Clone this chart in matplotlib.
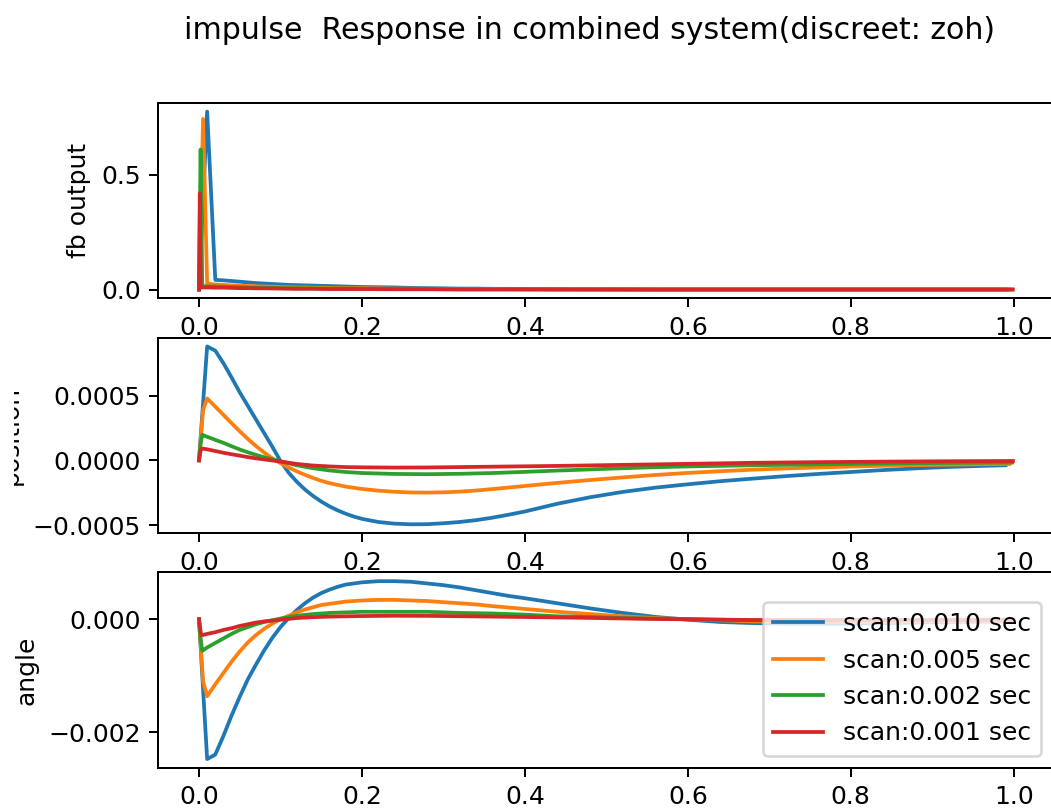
import matplotlib
matplotlib.use('Agg')
import matplotlib.pyplot as plt
from matplotlib.patches import Rectangle
import numpy as np

# ---- data (time in sec) ----
labels = ['scan:0.010 sec', 'scan:0.005 sec', 'scan:0.002 sec', 'scan:0.001 sec']

# scan 0.010 sec (position x1e-4, angle x1e-3)
t_010 = [0, .01, .02, .03, .04, .05, .06, .07, .08, .09,
         .10, .11, .12, .13, .14, .15, .16, .17, .18, .19,
         .20, .22, .24, .26, .28, .30, .32, .34, .36, .38,
         .40, .44, .48, .52, .56, .60, .64, .68, .72, .76,
         .80, .84, .88, .92, .96, .99]
fb_010 = [0, .775, .042, .040, .037, .034, .031, .028, .026, .024,
          .022, .020, .019, .018, .017, .016, .015, .014, .013, .012,
          .011, .010, .009, .007, .006, .005, .004, .004, .003, .003,
          .002, .002, .001, .001, 0, 0, 0, 0, 0, 0,
          0, 0, 0, 0, 0, 0]
pos_010 = [0, 8.80, 8.47, 7.50, 6.40, 5.25, 4.20, 3.15, 2.10, 1.05,
           -0.05, -0.95, -1.65, -2.25, -2.75, -3.18, -3.55, -3.86, -4.12, -4.34,
           -4.52, -4.76, -4.89, -4.94, -4.93, -4.86, -4.76, -4.62, -4.43, -4.20,
           -3.95, -3.35, -2.85, -2.44, -2.11, -1.85, -1.61, -1.41, -1.22, -1.05,
           -0.90, -0.75, -0.62, -0.51, -0.43, -0.38]
ang_010 = [0, -2.47, -2.39, -2.06, -1.70, -1.37, -1.06, -0.80, -0.55, -0.33,
           -0.14, 0.02, 0.16, 0.28, 0.38, 0.46, 0.52, 0.57, 0.61, 0.63,
           0.65, 0.67, 0.67, 0.66, 0.63, 0.60, 0.56, 0.51, 0.46, 0.41,
           0.37, 0.28, 0.19, 0.11, 0.04, -0.01, -0.05, -0.07, -0.08, -0.08,
           -0.08, -0.07, -0.06, -0.05, -0.045, -0.04]

# scan 0.005 sec
t_005 = [0, .005, .01, .02, .03, .04, .05, .06, .07, .08,
         .09, .10, .11, .12, .13, .14, .15, .16, .18, .20,
         .22, .24, .26, .28, .30, .32, .34, .36, .40, .44,
         .48, .52, .56, .60, .64, .68, .72, .76, .80, .84,
         .88, .92, .96, .995]
fb_005 = [0, .743, .025, .022, .020, .018, .017, .015, .014, .013,
          .012, .011, .010, .009, .009, .008, .008, .007, .006, .006,
          .005, .004, .004, .003, .003, .002, .002, .002, .001, .001,
          .001, 0, 0, 0, 0, 0, 0, 0, 0, 0,
          0, 0, 0, 0]
pos_005 = [0, 3.89, 4.78, 4.15, 3.51, 2.87, 2.24, 1.65, 1.10, 0.60,
           0.15, -0.22, -0.55, -0.85, -1.12, -1.36, -1.58, -1.76, -2.03, -2.21,
           -2.34, -2.43, -2.48, -2.49, -2.47, -2.42, -2.33, -2.22, -1.98, -1.74,
           -1.52, -1.32, -1.13, -0.97, -0.84, -0.72, -0.63, -0.55, -0.48, -0.42,
           -0.37, -0.33, -0.30, -0.28]
ang_005 = [0, -1.10, -1.36, -1.15, -0.95, -0.75, -0.57, -0.41, -0.28, -0.17,
           -0.08, 0.00, 0.06, 0.12, 0.17, 0.21, 0.25, 0.27, 0.31, 0.33,
           0.34, 0.34, 0.33, 0.32, 0.30, 0.28, 0.26, 0.23, 0.18, 0.13,
           0.09, 0.05, 0.02, 0.00, -0.02, -0.04, -0.05, -0.05, -0.05, -0.045,
           -0.04, -0.035, -0.03, -0.03]

# scan 0.002 sec
t_002 = [0, .002, .004, .006, .01, .02, .03, .04, .05, .06,
         .07, .08, .10, .12, .14, .16, .18, .20, .24, .28,
         .32, .36, .40, .44, .48, .52, .56, .60, .68, .76,
         .84, .92, .998]
fb_002 = [0, .61, .015, .014, .014, .013, .012, .011, .010, .009,
          .008, .008, .006, .005, .005, .004, .004, .003, .002, .002,
          .001, .001, .001, 0, 0, 0, 0, 0, 0, 0,
          0, 0, 0]
pos_002 = [0, 1.30, 1.98, 1.92, 1.82, 1.58, 1.35, 1.09, 0.84, 0.62,
           0.42, 0.24, -0.08, -0.38, -0.61, -0.78, -0.90, -0.98, -1.05, -1.07,
           -1.04, -0.98, -0.89, -0.79, -0.70, -0.61, -0.53, -0.47, -0.38, -0.31,
           -0.25, -0.20, -0.17]
ang_002 = [0, -0.35, -0.56, -0.54, -0.50, -0.42, -0.34, -0.26, -0.19, -0.14,
           -0.09, -0.05, 0.01, 0.06, 0.09, 0.11, 0.12, 0.13, 0.13, 0.13,
           0.11, 0.10, 0.08, 0.05, 0.04, 0.02, 0.01, 0.00, -0.02, -0.02,
           -0.02, -0.015, -0.01]

# scan 0.001 sec
t_001 = [0, .001, .002, .003, .005, .01, .02, .03, .04, .05,
         .06, .07, .08, .10, .12, .14, .16, .18, .20, .24,
         .28, .32, .36, .40, .44, .48, .52, .56, .60, .68,
         .76, .84, .92, .999]
fb_001 = [0, .42, .010, .009, .009, .009, .008, .008, .007, .006,
          .006, .005, .005, .004, .003, .003, .002, .002, .002, .001,
          .001, 0, 0, 0, 0, 0, 0, 0, 0, 0,
          0, 0, 0, 0]
pos_001 = [0, 0.40, 0.75, 0.92, 0.90, 0.85, 0.72, 0.585, 0.47, 0.36,
           0.25, 0.15, 0.07, -0.09, -0.28, -0.40, -0.47, -0.52, -0.54, -0.56,
           -0.55, -0.52, -0.49, -0.46, -0.43, -0.39, -0.35, -0.31, -0.27, -0.19,
           -0.14, -0.10, -0.07, -0.05]
ang_001 = [0, -0.12, -0.22, -0.28, -0.28, -0.26, -0.23, -0.19, -0.16, -0.12,
           -0.09, -0.06, -0.04, -0.01, 0.02, 0.035, 0.045, 0.05, 0.055, 0.06,
           0.058, 0.052, 0.045, 0.038, 0.03, 0.022, 0.012, 0.004, -0.003, -0.015,
           -0.018, -0.015, -0.012, -0.01]

times = [t_010, t_005, t_002, t_001]
fb_out = [fb_010, fb_005, fb_002, fb_001]
position = [np.array(p) * 1e-4 for p in [pos_010, pos_005, pos_002, pos_001]]
angle = [np.array(a) * 1e-3 for a in [ang_010, ang_005, ang_002, ang_001]]

# ---- figure ----
W, H, DPI = 1051, 811, 180
fig = plt.figure(figsize=(W / DPI, H / DPI), dpi=DPI)

left = 158.3 / W
width = 895.3 / W
ax_h = 195.7 / H
bottoms = [(H - 298.4) / H, (H - 533.2) / H, (H - 768.0) / H]

axes = [fig.add_axes([left, b, width, ax_h]) for b in bottoms]

for t, y, lab in zip(times, fb_out, labels):
    axes[0].plot(t, y, label=lab)
axes[0].set_ylabel('fb output')
axes[0].set_yticks([0.0, 0.5])

for t, y in zip(times, position):
    axes[1].plot(t, y)
axes[1].set_ylabel('position')
axes[1].set_yticks([-0.0005, 0.0, 0.0005])

for t, y, lab in zip(times, angle, labels):
    axes[2].plot(t, y, label=lab)
axes[2].set_ylabel('angle')
axes[2].set_yticks([-0.002, 0.0])
axes[2].legend(loc='lower right')

for ax in axes:
    ax.set_xticks([0.0, 0.2, 0.4, 0.6, 0.8, 1.0])
    ax.spines['right'].set_visible(False)  # sits past the cropped edge

fig.suptitle('impulse  Response in combined system(discreet: zoh)',
             x=590 / W, y=(H - 16.3) / H, va='top')

# white margin on the left (screenshot padding)
fig.patches.append(Rectangle((0, 0), 14 / W, 1, transform=fig.transFigure,
                             facecolor='white', edgecolor='none', zorder=10))

fig.savefig('out.png', dpi=DPI)
